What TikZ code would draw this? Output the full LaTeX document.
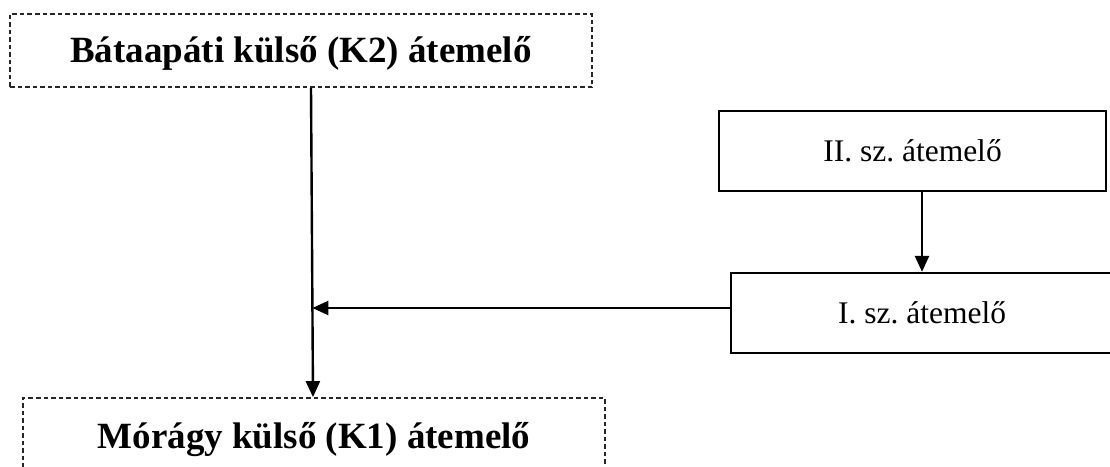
\documentclass[tikz,border=0pt]{standalone}
\usepackage{fontspec}
\setmainfont{Liberation Serif}
\usetikzlibrary{arrows.meta}
\begin{document}
\frenchspacing
\begin{tikzpicture}[x=1pt,y=-1pt,
  station/.style={rectangle, draw=black, line width=2.3pt, inner sep=0pt,
    font=\fontsize{31.5}{36}\selectfont, text height=20.9pt, text depth=0pt},
  mainstation/.style={rectangle, draw=black!85, line width=1.7pt,
    dash pattern=on 4.5pt off 3pt, inner sep=0pt,
    font=\fontsize{37}{44}\selectfont\bfseries, text height=24.5pt, text depth=0pt},
  flow/.style={line width=2.4pt, -{Triangle[length=16pt,width=14pt]}}]
\useasboundingbox (0,0) rectangle (1110,466);
\fill[white] (0,0) rectangle (1110,466);

% pumping stations
\node[mainstation, minimum width=582pt, minimum height=73pt] (k2) at (301,50.5)
  {Bátaapáti külső (K2) átemelő};
\node[mainstation, minimum width=582pt, minimum height=76pt] (k1) at (314,436)
  {Mórágy külső (K1) átemelő};
\node[station, minimum width=387pt, minimum height=80pt] (s2) at (912.5,151)
  {II. sz. átemelő};
\node[station, minimum width=382pt, minimum height=80pt] (s1) at (922,313)
  {I. sz. átemelő};

% junction on the main pressure line
\coordinate (j) at (312.4,308);

% flows
\draw[flow] ([xshift=10pt]k2.south) -- ([xshift=-1pt]k1.north);
\draw[flow] ([xshift=9.5pt]s2.south) -- (s1.north);
\draw[flow] ([yshift=5pt]s1.west) -- (j);
\end{tikzpicture}
\end{document}
